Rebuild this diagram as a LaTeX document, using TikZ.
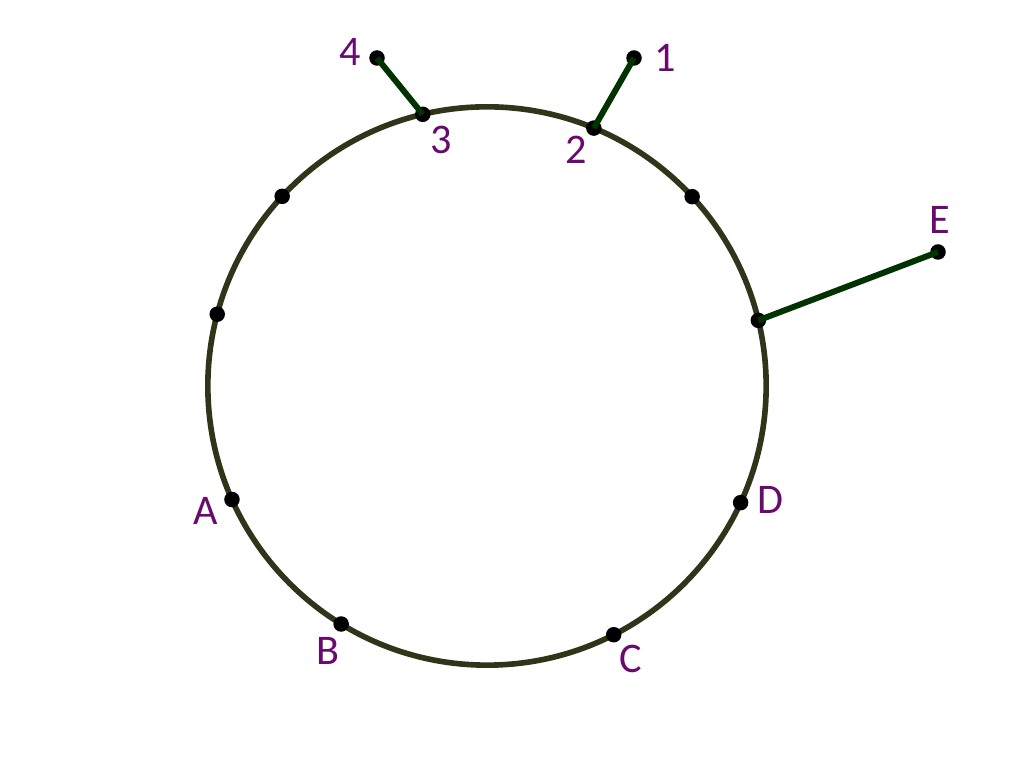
\documentclass[tikz,border=0pt]{standalone}
\usepackage{fontspec}
\setmainfont{Carlito}
\usetikzlibrary{calc}
\definecolor{ringcol}{HTML}{2E3519}
\definecolor{spokecol}{HTML}{003300}
\definecolor{labelcol}{HTML}{680A6E}
\tikzstyle{ring} = [draw=ringcol, line width=1.6pt]
\tikzstyle{spoke} = [draw=spokecol, line width=1.7pt]
\tikzstyle{dot} = [circle, fill=black, inner sep=0pt, minimum size=0.155cm]
\tikzstyle{lbl} = [text=labelcol, font=\fontsize{12}{14}\selectfont, inner sep=1pt]

\begin{document}
\begin{tikzpicture}[x=0.01cm, y=-0.01cm]
        \useasboundingbox (0,0) rectangle (1024,768);
        \coordinate (c) at (487,386);
        \draw [ring] (c) circle [radius=2.79cm];

        % points on the ring
        \node (p3) [dot] at ($(c)+(103.3:2.79cm)$) {};
        \node (p2) [dot] at ($(c)+(67.5:2.79cm)$) {};
        \node (q1) [dot] at ($(c)+(42.7:2.79cm)$) {};
        \node (q2) [dot] at ($(c)+(137.2:2.79cm)$) {};
        \node (q3) [dot] at ($(c)+(165.1:2.79cm)$) {};
        \node (pe) [dot] at ($(c)+(13.6:2.79cm)$) {};
        \node (pd) [dot] at ($(c)+(-24.7:2.79cm)$) {};
        \node (pa) [dot] at ($(c)+(204:2.79cm)$) {};
        \node (pb) [dot] at ($(c)+(238.5:2.79cm)$) {};
        \node (pc) [dot] at ($(c)+(297:2.79cm)$) {};

        % outer points
        \node (p4) [dot] at (377,58) {};
        \node (p1) [dot] at (634,58) {};
        \node (e) [dot] at (938,252) {};

        \draw [spoke] (p3.center) -- (p4.center);
        \draw [spoke] (p2.center) -- (p1.center);
        \draw [spoke] (pe.center) -- (e.center);

        % labels
        \node [lbl] at (350,52) {4};
        \node [lbl] at (665,58) {1};
        \node [lbl] at (441,140) {3};
        \node [lbl] at (576,150) {2};
        \node [lbl] at (940,220) {E};
        \node [lbl] at (770,500) {D};
        \node [lbl] at (206,511) {A};
        \node [lbl] at (328,651) {B};
        \node [lbl] at (631,659) {C};
    \end{tikzpicture}
\end{document}
